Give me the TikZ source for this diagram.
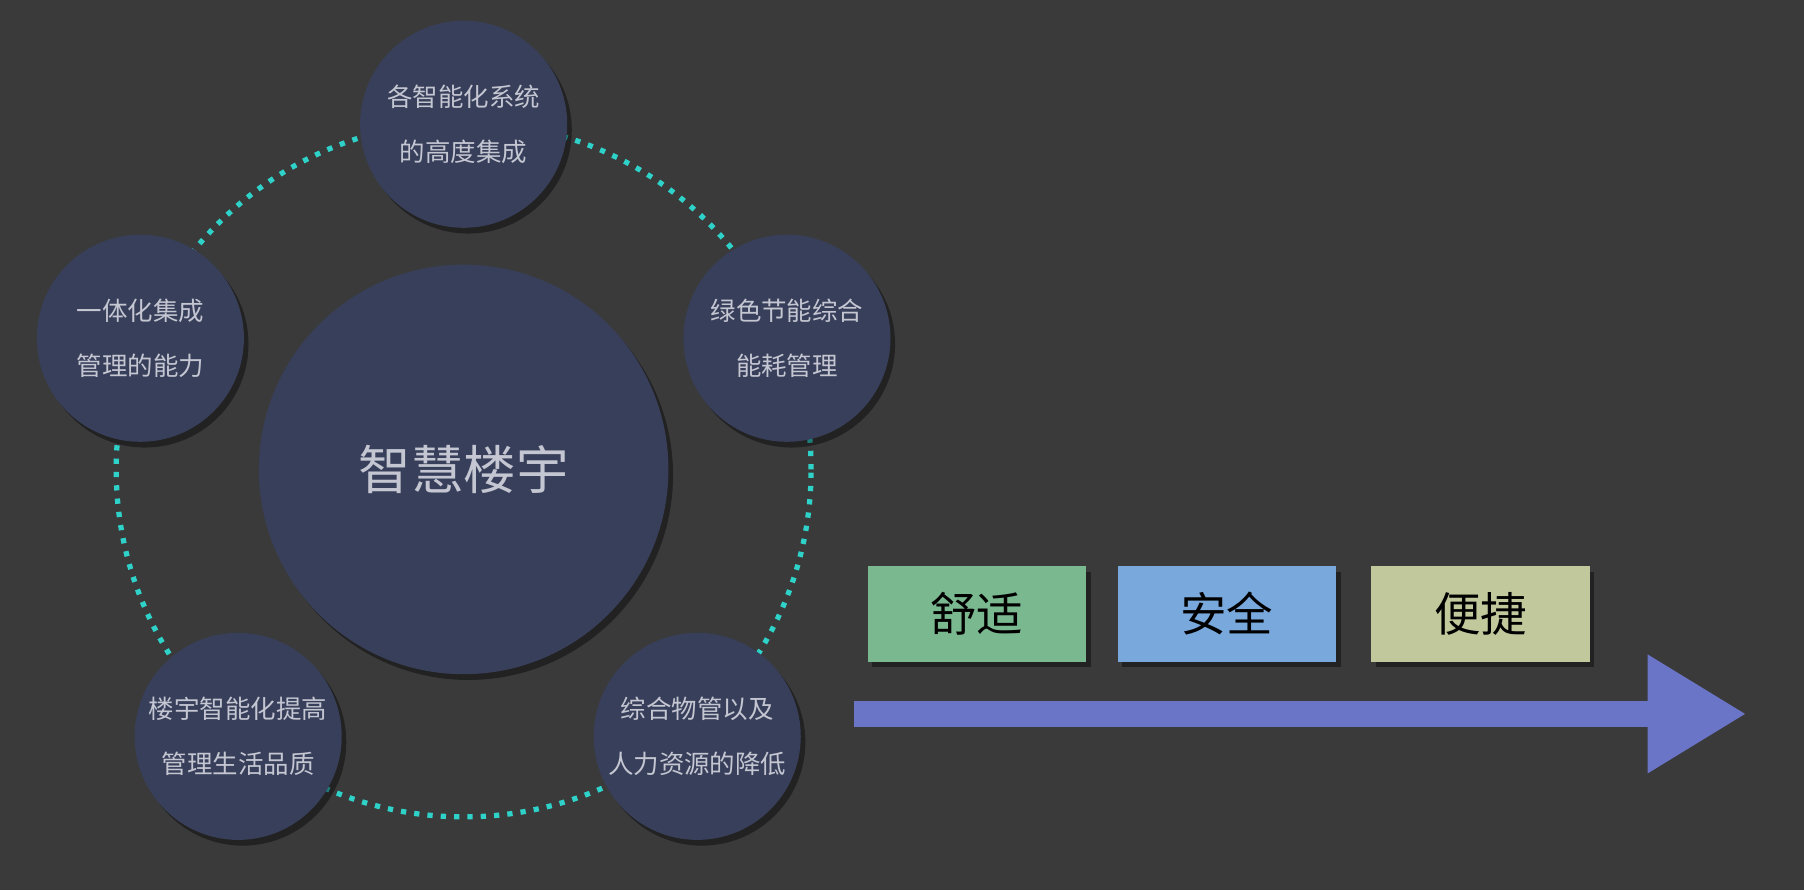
\documentclass[tikz,border=0pt]{standalone}
\usepackage{fontspec}
\newfontfamily\cjk{Noto Sans CJK SC}
\usetikzlibrary{positioning, arrows.meta, shadows}
\definecolor{bgc}{HTML}{3A3A3A}
\definecolor{ballc}{HTML}{383F5A}
\definecolor{ringc}{HTML}{2ED2C8}
\definecolor{txtc}{HTML}{C4C6D2}
\definecolor{arrc}{HTML}{6A75C8}
\tikzstyle{ball} = [circle, minimum size=1.8cm, inner sep=0pt, fill=ballc, text=txtc, align=center, font=\cjk\fontsize{6.3}{13.6}\selectfont, drop shadow={fill=black, opacity=0.4, shadow xshift=0.04cm, shadow yshift=-0.05cm}]
\tikzstyle{tag} = [rectangle, minimum width=1.9cm, minimum height=0.83cm, inner sep=0pt, text=black, font=\cjk\fontsize{11.5}{12}\selectfont, drop shadow={fill=black, opacity=0.4, shadow xshift=0.04cm, shadow yshift=-0.05cm}]
\tikzstyle{ring} = [ringc, line width=1.3pt, dash pattern=on 1.3pt off 2pt]
\begin{document}
\begin{tikzpicture}
            \fill[bgc] (0,0) rectangle (15.68,-7.736);
            \useasboundingbox (0,0) rectangle (15.68,-7.736);
            \coordinate (hub) at (4.03,-4.08);
            \draw [ring] (hub) circle (3.02);
            \node (core) [ball, minimum size=3.56cm, font=\cjk\fontsize{13}{14}\selectfont] at (hub) {智慧楼宇};
            \node (top) [ball] at (4.03,-1.08) {各智能化系统\\的高度集成};
            \node (right) [ball] at (6.84,-2.94) {绿色节能综合\\能耗管理};
            \node (lowright) [ball] at (6.06,-6.40) {综合物管以及\\人力资源的降低};
            \node (lowleft) [ball] at (2.07,-6.40) {楼宇智能化提高\\管理生活品质};
            \node (left) [ball] at (1.22,-2.94) {一体化集成\\管理的能力};

            \node (comfort) [tag, fill={rgb,255:red,122;green,184;blue,144}] at (8.49,-5.335) {舒适};
            \node (safe) [tag, fill={rgb,255:red,120;green,168;blue,220}, right=0.26cm of comfort] {安全};
            \node (easy) [tag, fill={rgb,255:red,192;green,200;blue,156}, right=0.29cm of safe] {便捷};

            \coordinate (arrs) at (7.42,-6.205);
            \coordinate (arre) at (15.18,-6.205);
            \draw [arrc, line width=0.23cm, -{Triangle[width=0.97cm, length=0.86cm]}] (arrs) -- (arre);
\end{tikzpicture}
\end{document}
